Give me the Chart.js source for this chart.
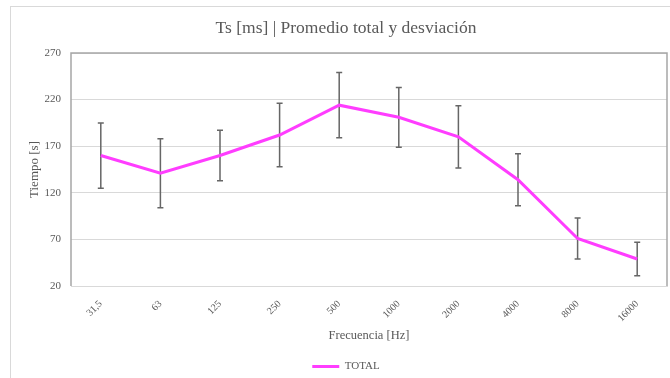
<!DOCTYPE html>
<html>
<head>
<meta charset="utf-8">
<script src="https://cdn.jsdelivr.net/npm/chart.js@4/dist/chart.umd.min.js"></script>
<style>
  html, body { margin: 0; padding: 0; background: #fff; overflow: hidden; }
  #wrap { position: relative; width: 670px; height: 378px; }
  #frame {
    position: absolute; left: 10px; top: 6px; width: 700px; height: 400px;
    border: 1px solid #d9d9d9; box-sizing: border-box;
  }
  canvas { position: absolute; left: 0; top: 0; }
</style>
</head>
<body>
<div id="wrap">
  <div id="frame"></div>
  <canvas id="chart" width="670" height="378"></canvas>
</div>
<script>
const FREQ_LABELS = ["31,5", "63", "125", "250", "500", "1000", "2000", "4000", "8000", "16000"];
const TOTAL_MEAN  = [160, 141, 160, 182, 214, 201, 180, 134, 71, 49];
const TOTAL_DEV   = [35, 37, 27, 34, 35, 32, 33.5, 28, 22, 18];

const FONT      = "'Liberation Serif', 'Times New Roman', serif";
const TEXT_GRAY = "#595959";
const GRID_GRAY = "#d9d9d9";
const LINE_PINK = "#ff3dff";

// error bars + plot frame, drawn under the line
const errorBars = {
  id: "errorBars",
  beforeDatasetsDraw(chart) {
    const { ctx, chartArea: a, scales: { x, y } } = chart;
    ctx.save();
    ctx.strokeStyle = "#a6a6a6";
    ctx.lineWidth = 1.5;
    ctx.beginPath();
    ctx.moveTo(a.left, a.bottom);
    ctx.lineTo(a.left, a.top);
    ctx.lineTo(a.right, a.top);
    ctx.lineTo(a.right, a.bottom);
    ctx.stroke();

    ctx.strokeStyle = "#666666";
    ctx.lineWidth = 1.5;
    TOTAL_MEAN.forEach((v, i) => {
      const px  = x.getPixelForValue(i);
      const top = y.getPixelForValue(v + TOTAL_DEV[i]);
      const bot = y.getPixelForValue(v - TOTAL_DEV[i]);
      ctx.beginPath();
      ctx.moveTo(px, top); ctx.lineTo(px, bot);
      ctx.moveTo(px - 3, top); ctx.lineTo(px + 3, top);
      ctx.moveTo(px - 3, bot); ctx.lineTo(px + 3, bot);
      ctx.stroke();
    });
    ctx.restore();
  },
};

new Chart(document.getElementById("chart"), {
  type: "line",
  data: {
    labels: FREQ_LABELS,
    datasets: [{
      label: "TOTAL",
      data: TOTAL_MEAN,
      borderColor: LINE_PINK,
      backgroundColor: LINE_PINK,
      borderWidth: 3,
      pointRadius: 0,
      tension: 0,
    }],
  },
  options: {
    responsive: false,
    animation: false,
    layout: { padding: { left: 25, right: 3, top: 0, bottom: -4 } },
    plugins: {
      title: {
        display: true,
        text: "Ts [ms] | Promedio total y desviación",
        color: TEXT_GRAY,
        font: { family: FONT, size: 17.5, weight: "normal" },
        padding: { top: 18, bottom: 14 },
      },
      legend: {
        position: "bottom",
        labels: {
          color: TEXT_GRAY,
          font: { family: FONT, size: 11 },
          usePointStyle: true,
          pointStyle: "line",
          pointStyleWidth: 27,
          boxHeight: 3,
          padding: 4,
        },
      },
      tooltip: { enabled: false },
    },
    scales: {
      x: {
        offset: true,
        grid: { display: false, offset: true },
        border: { display: true, color: GRID_GRAY, width: 1 },
        ticks: {
          color: TEXT_GRAY,
          font: { family: FONT, size: 10 },
          minRotation: 45, maxRotation: 45,
          padding: 4,
        },
        title: {
          display: true,
          text: "Frecuencia [Hz]",
          color: TEXT_GRAY,
          font: { family: FONT, size: 12.5 },
          padding: { top: 0, bottom: 14 },
        },
        afterFit(scale) { scale.height = 71; },
      },
      y: {
        min: 20,
        max: 270,
        grid: { color: GRID_GRAY, drawTicks: false },
        border: { display: false },
        ticks: {
          stepSize: 50,
          color: TEXT_GRAY,
          font: { family: FONT, size: 11 },
          padding: 10,
        },
        title: {
          display: true,
          text: "Tiempo [s]",
          color: TEXT_GRAY,
          font: { family: FONT, size: 13 },
          padding: { top: 2, bottom: 0 },
        },
        afterFit(scale) { scale.width = 46; },
      },
    },
  },
  plugins: [errorBars],
});
</script>
</body>
</html>
